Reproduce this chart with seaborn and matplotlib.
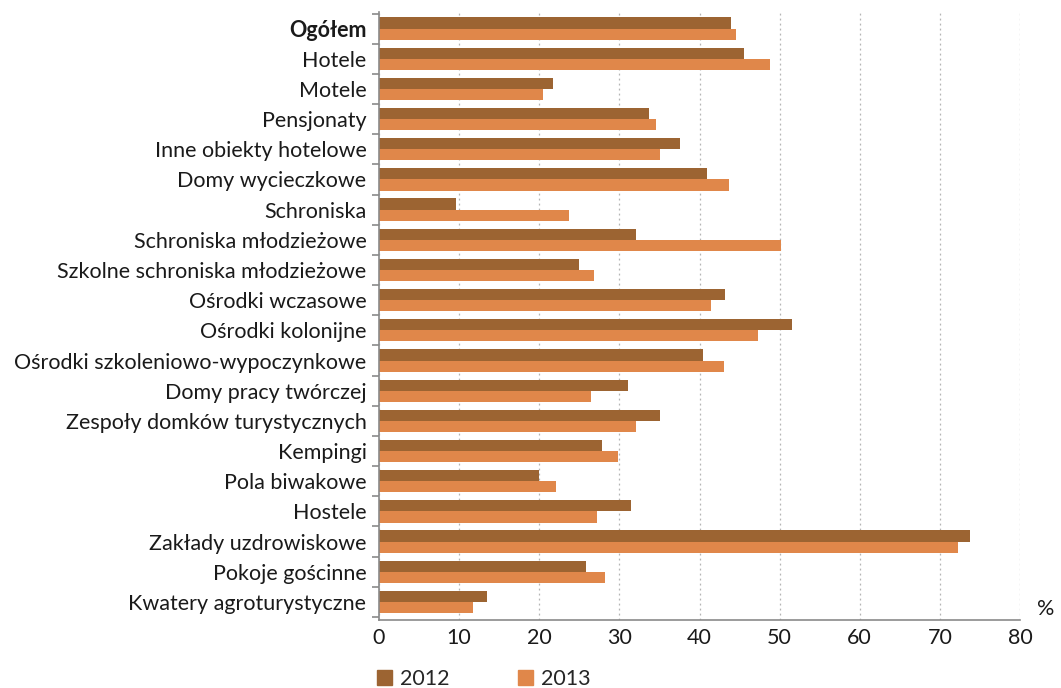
import pandas as pd
import matplotlib.pyplot as plt
import seaborn as sns

# Kategorie obiektów
kategorie = ['Ogółem', 'Hotele', 'Motele', 'Pensjonaty', 'Inne obiekty hotelowe',
             'Domy wycieczkowe', 'Schroniska', 'Schroniska młodzieżowe',
             'Szkolne schroniska młodzieżowe', 'Ośrodki wczasowe', 'Ośrodki kolonijne',
             'Ośrodki szkoleniowo-wypoczynkowe', 'Domy pracy twórczej',
             'Zespoły domków turystycznych', 'Kempingi', 'Pola biwakowe', 'Hostele',
             'Zakłady uzdrowiskowe', 'Pokoje gościnne', 'Kwatery agroturystyczne']

# Wartości (%)
w2012 = [43.9, 45.6, 21.7, 33.7, 37.6, 40.9, 9.6, 32.1, 25.0, 43.2, 51.5,
         40.4, 31.1, 35.1, 27.8, 20.0, 31.5, 73.8, 25.8, 13.5]
w2013 = [44.6, 48.8, 20.5, 34.6, 35.1, 43.7, 23.7, 50.2, 26.8, 41.4, 47.3,
         43.1, 26.5, 32.1, 29.8, 22.1, 27.2, 72.3, 28.2, 11.7]
lata = ['2012', '2013']
kolory = ['#9C6432', '#E0874A']

df = pd.DataFrame({
    'kategoria': kategorie * 2,
    'wartosc': w2012 + w2013,
    'rok': [lata[0]] * len(kategorie) + [lata[1]] * len(kategorie),
})

sns.set_style('white')
plt.rcParams['font.family'] = ['Lato', 'DejaVu Sans']

fig = plt.figure(figsize=(10.61, 6.88), dpi=100)
ax = fig.add_axes([379 / 1061, 68 / 688, 641 / 1061, 608 / 688])

sns.barplot(data=df, y='kategoria', x='wartosc', hue='rok', orient='h',
            palette=kolory, width=0.74, saturation=1, linewidth=0, ax=ax, legend=False)

ax.set_xlim(0, 80)
ax.set_ylim(len(kategorie) - 0.4, -0.55)
ax.set_xticks(range(0, 81, 10))
ax.xaxis.grid(True, linestyle=(0, (1.5, 2.5)), color='#b5b5b5', linewidth=0.9)
ax.set_axisbelow(True)
ax.set_xlabel('')
ax.set_ylabel('')

for s in ['top', 'right']:
    ax.spines[s].set_visible(False)
for s in ['left', 'bottom']:
    ax.spines[s].set_color('#8a8a8a')
    ax.spines[s].set_linewidth(1.2)

# podziałki między kategoriami
ax.set_yticks([i + 0.5 for i in range(-1, len(kategorie))], minor=True)
ax.tick_params(axis='y', which='major', length=0, pad=9, labelsize=15.5, labelcolor='#1a1a1a')
ax.tick_params(axis='y', which='minor', length=5, color='#8a8a8a', width=1.2, left=True)
ax.tick_params(axis='x', length=0, labelsize=15.5, labelcolor='#1a1a1a', pad=6)
ax.get_yticklabels()[0].set_fontweight('bold')

fig.text(1046 / 1061, 1 - 609 / 688, '%', ha='center', va='center', fontsize=15.5, color='#1a1a1a')

# legenda
uchwyty = [plt.Rectangle((0, 0), 1, 1, color=k) for k in kolory]
fig.legend(uchwyty, lata, loc='center left', bbox_to_anchor=(377 / 1061, 1 - 679 / 688),
           ncol=2, frameon=False, fontsize=15.5, handlelength=0.7, handleheight=0.7,
           handletextpad=0.35, columnspacing=3.2, borderpad=0, borderaxespad=0)

plt.savefig('out.png', dpi=100)
